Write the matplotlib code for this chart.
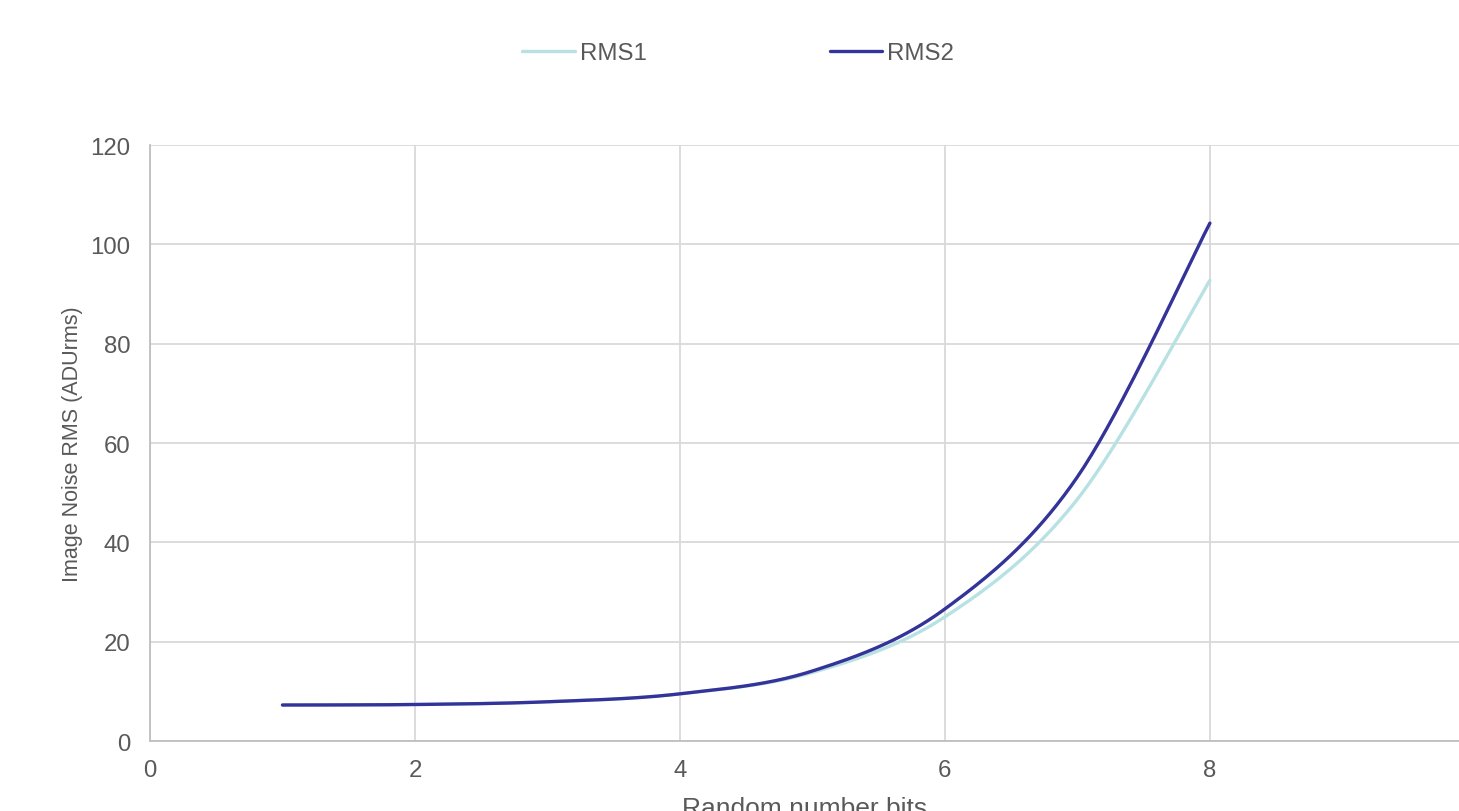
import numpy as np
import matplotlib.pyplot as plt

plt.rcParams['font.family'] = ['Liberation Sans', 'DejaVu Sans']

# data
bits = [1, 2, 3, 4, 5, 6, 7, 8]
rms1 = [7.25, 7.35, 7.9, 9.5, 13.8, 25.0, 48.7, 92.8]
rms2 = [7.25, 7.35, 7.9, 9.5, 14.1, 26.6, 53.2, 104.3]
xticks = [0, 2, 4, 6, 8]
yticks = [0, 20, 40, 60, 80, 100, 120]

grey = '#595959'


# smoothed line like excel (catmull-rom bezier between the points)
def smooth(x, y, n=40):
    p = np.column_stack([x, y]).astype(float)
    p = np.vstack([p[0], p, p[-1]])
    out = []
    t = np.linspace(0, 1, n)[:, None]
    for i in range(1, len(p) - 2):
        p0, p1, p2, p3 = p[i - 1], p[i], p[i + 1], p[i + 2]
        c1 = p1 + (p2 - p0) / 6
        c2 = p2 - (p3 - p1) / 6
        seg = (1 - t) ** 3 * p1 + 3 * (1 - t) ** 2 * t * c1 + 3 * (1 - t) * t ** 2 * c2 + t ** 3 * p2
        out.append(seg)
    s = np.vstack(out)
    return s[:, 0], s[:, 1]


fig = plt.figure(figsize=(14.59, 8.12), dpi=100)
ax = fig.add_axes([0.1028, 0.0862, 0.8972, 0.7338])

sx, sy = smooth(bits, rms1)
ax.plot(sx, sy, color='#b7e1e3', lw=2.4, label='RMS1', solid_capstyle='round')
sx, sy = smooth(bits, rms2)
ax.plot(sx, sy, color='#333399', lw=2.4, label='RMS2', solid_capstyle='round')

ax.set_xlim(0, 9.88)
ax.set_ylim(0, 120)
ax.set_xticks(xticks)
ax.set_yticks(yticks)
ax.grid(True, color='#d9d9d9', lw=1.3)
ax.set_axisbelow(True)
ax.tick_params(axis='y', length=0, labelsize=17.3, colors=grey, pad=14)
ax.tick_params(axis='x', length=0, labelsize=17.3, colors=grey, pad=13)
for s in ['top', 'right']:
    ax.spines[s].set_visible(False)
for s in ['left', 'bottom']:
    ax.spines[s].set_color('#bfbfbf')
    ax.spines[s].set_linewidth(1.3)

ax.set_xlabel('Random number bits', fontsize=19, color=grey, labelpad=11)
ax.set_ylabel('Image Noise RMS (ADUrms)', fontsize=15.5, color=grey, labelpad=5)

fig.legend(loc='center', bbox_to_anchor=(0.506, 0.933), ncol=2, frameon=False,
           fontsize=17.3, labelcolor=grey, handlelength=2.2, handletextpad=0.2,
           columnspacing=7.6)

fig.savefig('out.png', dpi=100)
